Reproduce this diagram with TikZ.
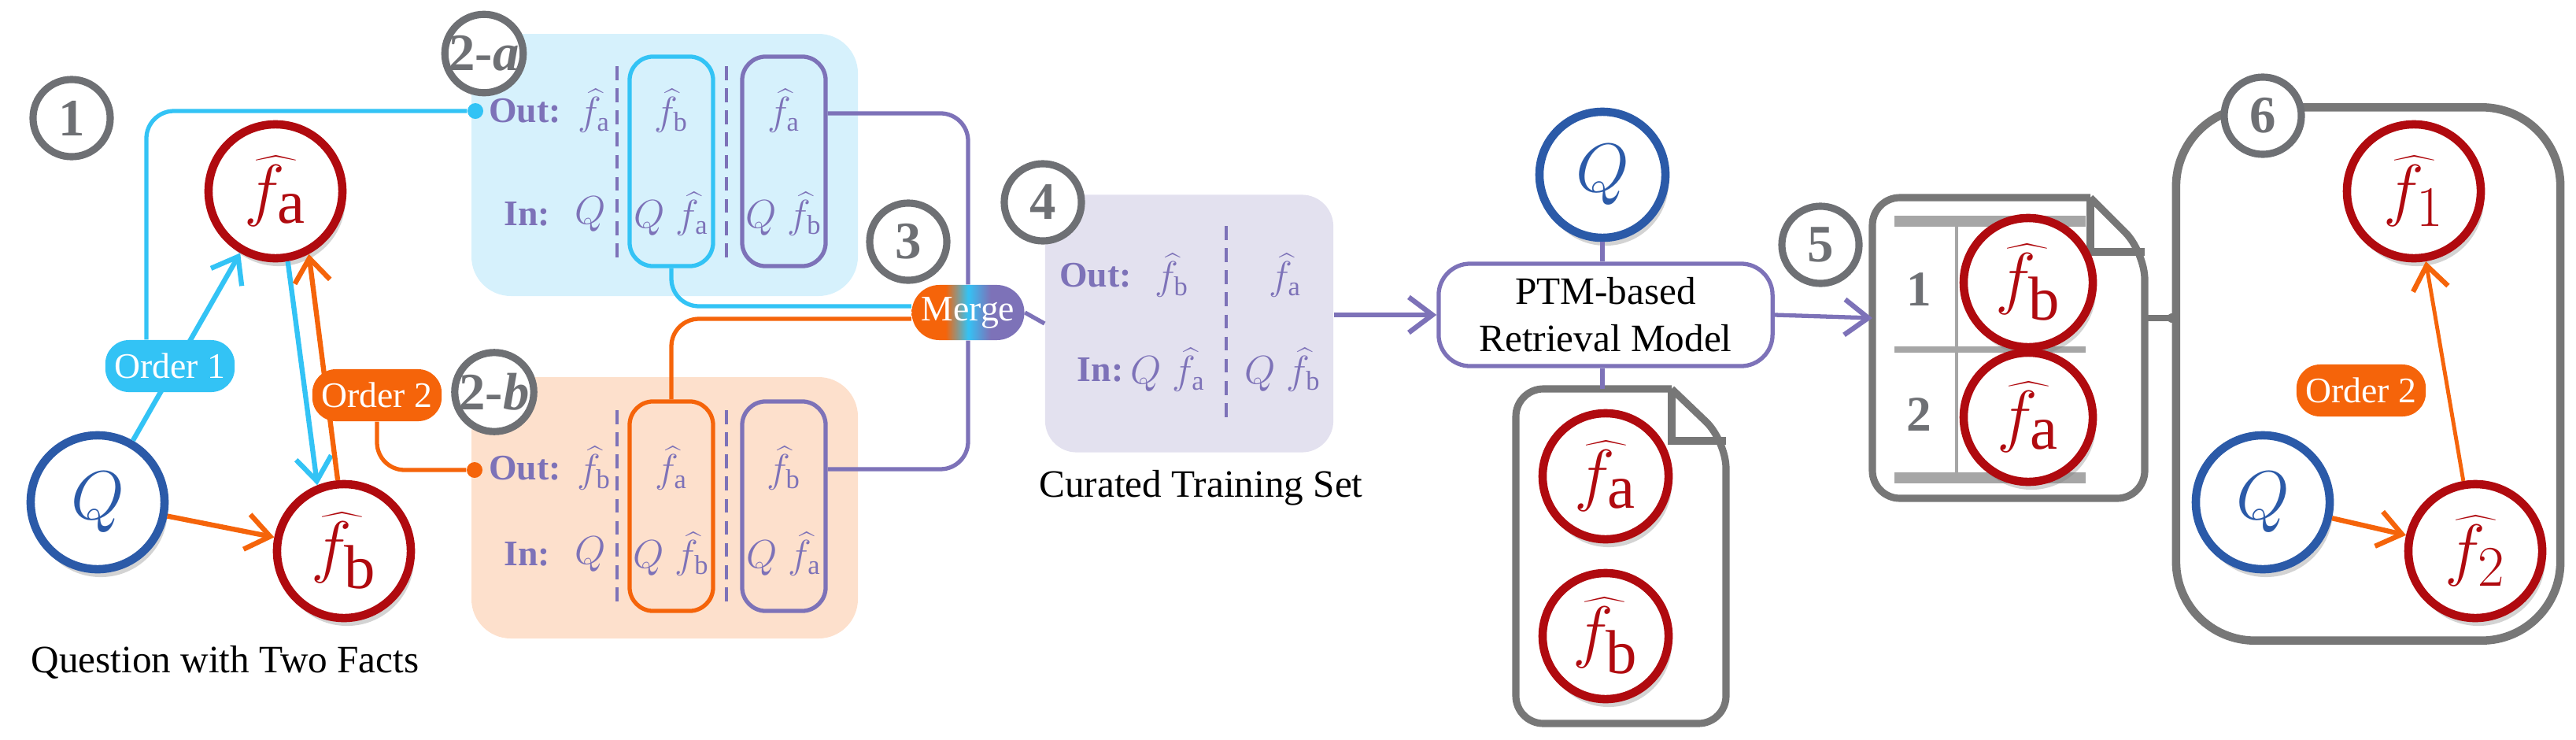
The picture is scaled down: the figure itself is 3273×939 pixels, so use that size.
\documentclass[tikz,border=0pt]{standalone}
\usepackage{fontspec}
\setmainfont{Liberation Serif}
\usetikzlibrary{shadows,arrows.meta,calc}
\definecolor{factred}{HTML}{B00A0F}
\definecolor{qblue}{HTML}{2B5AA8}
\definecolor{cyanC}{HTML}{33C3F5}
\definecolor{orangeC}{HTML}{F5640A}
\definecolor{purpleC}{HTML}{7D72B8}
\definecolor{stepgray}{HTML}{6E7074}
\definecolor{docgray}{HTML}{777777}
\definecolor{bluebg}{HTML}{D6F1FC}
\definecolor{peachbg}{HTML}{FDE0CC}
\definecolor{lavbg}{HTML}{E3E1EF}
\pgfdeclarehorizontalshading{mergeshade}{100bp}{color(0bp)=(orangeC); color(40bp)=(orangeC); color(50bp)=(cyanC); color(60bp)=(purpleC); color(100bp)=(purpleC)}
\newcommand{\fhat}[1]{$\widehat{f}_{\mathrm{#1}}$}
\tikzset{
  fact/.style={circle, draw=factred, line width=3pt, fill=white, text=factred, minimum size=1.7cm, inner sep=0pt,
    drop shadow={opacity=0.35, shadow xshift=0.04cm, shadow yshift=-0.1cm}, font=\fontsize{32}{36}\selectfont},
  quest/.style={fact, draw=qblue, text=qblue},
  stepmark/.style={circle, draw=stepgray, line width=2.6pt, fill=white, text=stepgray, minimum size=0.98cm, inner sep=0pt,
    font=\bfseries\fontsize{19}{22}\selectfont},
  order/.style={rounded corners=0.3cm, text=white, minimum width=1.62cm, minimum height=0.66cm, font=\fontsize{13}{15}\selectfont},
  colbox/.style={rounded corners=0.3cm, line width=1.5pt, minimum width=1.06cm, minimum height=2.66cm},
  intext/.style={text=purpleC, font=\fontsize{14}{16}\selectfont},
  rowlab/.style={text=purpleC, font=\bfseries\fontsize{13}{15}\selectfont},
  sep/.style={purpleC, line width=1pt, dash pattern=on 5pt off 3pt},
  arr/.style={line width=1.8pt, -{Straight Barb[length=0.3cm, width=0.45cm, line width=1.8pt]}},
  link/.style={line width=1.5pt, rounded corners=0.35cm},
  docline/.style={docgray, line width=2.6pt}
}
\begin{document}
\begin{tikzpicture}[x=0.01cm, y=-0.01cm]
  \useasboundingbox (0,0) rectangle (3273,939);

  % step 1: question with two facts
  \node[quest] (Q) at (124,638) {$Q$};
  \node[fact] (fa) at (350,243) {\fhat{a}};
  \node[fact] (fb) at (437,700) {\fhat{b}};
  \node[stepmark] (s1) at (91,150) {1};
  \draw[arr, cyanC] (Q) -- (fa);
  \draw[arr, cyanC] (fa.-80) -- (fb.112);
  \draw[arr, orangeC] (fb.95) -- (fa.-62);
  \draw[arr, orangeC] (Q) -- (fb);
  \node[order, fill=cyanC] (ord1) at (216,465) {Order 1};
  \node[order, fill=orangeC] (ord2) at (479,502) {Order 2};
  \node[font=\fontsize{14}{16}\selectfont] (cap1) at (286,841) {Question with Two Facts};

  % step 2-a and 2-b
  \fill[bluebg, rounded corners=0.5cm] (599,43) rectangle (1090,376);
  \fill[peachbg, rounded corners=0.5cm] (599,479) rectangle (1090,811);
  \node[stepmark] (s2a) at (615,68) {2-\textit{a}};
  \node[stepmark] (s2b) at (628,498) {2-\textit{b}};
  \node[circle, fill=cyanC, inner sep=0pt, minimum size=0.2cm] (dotA) at (604,141) {};
  \node[circle, fill=orangeC, inner sep=0pt, minimum size=0.2cm] (dotB) at (603,597) {};
  \draw[link, cyanC] ([xshift=-0.3cm]ord1.north) |- (dotA);
  \draw[link, orangeC] (ord2.south) |- (dotB);

  \node[colbox, draw=cyanC] (ca) at (853,205) {};
  \node[colbox, draw=purpleC] (pa) at (996,205) {};
  \node[colbox, draw=orangeC] (ob) at (853,643) {};
  \node[colbox, draw=purpleC] (pb) at (996,643) {};
  \draw[sep] (784,84) -- (784,330);
  \draw[sep] (923,84) -- (923,330);
  \draw[sep] (784,521) -- (784,770);
  \draw[sep] (923,521) -- (923,770);

  \node[rowlab] at (667,141) {Out:};
  \node[rowlab] at (670,272) {In:};
  \node[intext] at (755,141) {\fhat{a}};
  \node[intext] at (853,141) {\fhat{b}};
  \node[intext] at (996,141) {\fhat{a}};
  \node[intext] at (750,272) {$Q$};
  \node[intext] at (853,272) {$Q\;$\fhat{a}};
  \node[intext] at (996,272) {$Q\;$\fhat{b}};

  \node[rowlab] at (667,595) {Out:};
  \node[rowlab] at (670,704) {In:};
  \node[intext] at (755,595) {\fhat{b}};
  \node[intext] at (853,595) {\fhat{a}};
  \node[intext] at (996,595) {\fhat{b}};
  \node[intext] at (750,704) {$Q$};
  \node[intext] at (853,704) {$Q\;$\fhat{b}};
  \node[intext] at (996,704) {$Q\;$\fhat{a}};

  % step 3: merge
  \node[stepmark] (s3) at (1154,307) {3};
  \node[shading=mergeshade, rounded corners=0.35cm, minimum width=1.43cm, minimum height=0.7cm, text=white,
    font=\fontsize{13}{15}\selectfont] (merge) at (1230,397) {Merge};
  \draw[link, cyanC] (ca.south) |- ([yshift=0.08cm]merge.west);
  \draw[link, orangeC] (ob.north) |- ([yshift=-0.08cm]merge.west);
  \draw[link, purpleC] ([yshift=0.61cm]pa.east) -| (merge.north);
  \draw[link, purpleC] ([yshift=0.47cm]pb.east) -| (merge.south);

  % step 4: curated training set
  \node[fill=lavbg, rounded corners=0.4cm, minimum width=3.66cm, minimum height=3.27cm] (set) at (1511,411) {};
  \node[stepmark] (s4) at (1325,257) {4};
  \draw[sep] (1558,287) -- (1558,533);
  \node[rowlab] at (1392,350) {Out:};
  \node[rowlab] at (1398,470) {In:};
  \node[intext] at (1489,350) {\fhat{b}};
  \node[intext] at (1633,350) {\fhat{a}};
  \node[intext] at (1484,470) {$Q\;$\fhat{a}};
  \node[intext] at (1630,470) {$Q\;$\fhat{b}};
  \node[font=\fontsize{14}{16}\selectfont] (cap4) at (1526,620) {Curated Training Set};
  \draw[link, purpleC] (merge.east) -- (set.west);

  % retrieval model
  \node[draw=purpleC, line width=1.5pt, rounded corners=0.4cm, minimum width=4.24cm, minimum height=1.3cm, align=center,
    font=\fontsize{14}{17}\selectfont] (ptm) at (2040,400) {PTM-based\\Retrieval Model};
  \node[quest, minimum size=1.6cm] (Qr) at (2036,222) {$Q$};
  \draw[line width=1.5pt, purpleC] (Qr) -- (Qr |- ptm.north);
  \draw[arr, purpleC, line width=1.5pt] (set.east |- ptm.west) -- (ptm.west);

  % candidate document
  \coordinate (docA) at (2036,494);
  \draw[docline, rounded corners=0.35cm] (2124,494) -- (1926,494) -- (1926,919) -- (2193,919) -- (2193,560) [sharp corners] -- (2124,494);
  \draw[docline] (2124,494) -- (2124,560) -- (2193,560);
  \draw[line width=1.5pt, purpleC] (ptm.south -| docA) -- (docA);
  \node[fact, minimum size=1.6cm] (da) at (2040,605) {\fhat{a}};
  \node[fact, minimum size=1.6cm] (db) at (2040,808) {\fhat{b}};

  % step 5: ranked document
  \coordinate (docB) at (2379,404);
  \coordinate (docBe) at (2725,404);
  \draw[docline, rounded corners=0.35cm] (2656,251) -- (2379,251) -- (2379,633) -- (2725,633) -- (2725,320) [sharp corners] -- (2656,251);
  \draw[docline] (2656,251) -- (2656,320) -- (2725,320);
  \draw[line width=4pt, gray!70] (2407,281) -- (2650,281);
  \draw[line width=2pt, gray!70] (2407,444) -- (2650,444);
  \draw[line width=4pt, gray!70] (2407,607) -- (2650,607);
  \draw[line width=1pt, gray!70] (2486,281) -- (2486,607);
  \node[text=stepgray, font=\bfseries\fontsize{18}{20}\selectfont] (r1) at (2438,368) {1};
  \node[text=stepgray, font=\bfseries\fontsize{18}{20}\selectfont] (r2) at (2438,527) {2};
  \node[fact, minimum size=1.64cm] (kb) at (2577,359) {\fhat{b}};
  \node[fact, minimum size=1.64cm] (ka) at (2577,530) {\fhat{a}};
  \draw[arr, purpleC, line width=1.5pt] (ptm.east) -- (docB);
  \node[stepmark] (s5) at (2313,311) {5};

  % step 6: predicted order
  \node[draw=docgray, line width=3pt, rounded corners=1cm, minimum width=4.88cm, minimum height=6.77cm] (res) at (3009,475) {};
  \node[stepmark] (s6) at (2875,147) {6};
  \draw[docgray, line width=2pt] (docBe) -- (docBe -| res.west);
  \fill[docgray] (docBe -| res.west) circle (0.06cm);
  \node[quest] (Q6) at (2875,638) {$Q$};
  \node[fact] (f1) at (3067,243) {$\widehat{f}_{1}$};
  \node[fact] (f2) at (3145,700) {$\widehat{f}_{2}$};
  \draw[arr, orangeC] (Q6) -- (f2);
  \draw[arr, orangeC, line width=1.4pt] (f2) -- (f1);
  \node[order, fill=orangeC] (ord6) at (3000,496) {Order 2};
\end{tikzpicture}
\end{document}
